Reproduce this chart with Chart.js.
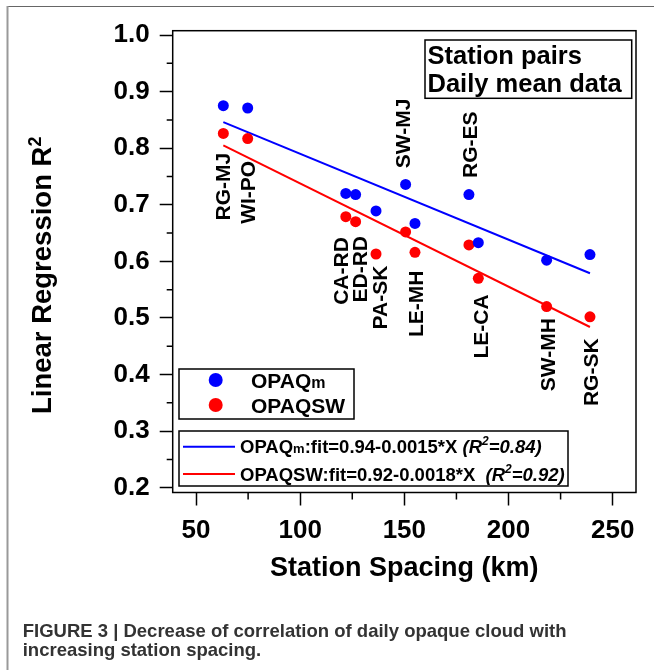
<!DOCTYPE html>
<html>
<head>
<meta charset="utf-8">
<script src="https://cdn.jsdelivr.net/npm/chart.js@4.4.1/dist/chart.umd.min.js"></script>
<style>
  html, body { margin: 0; padding: 0; background: #fff; }
  canvas { display: block; }
</style>
</head>
<body>
<canvas id="chart" width="654" height="670"></canvas>
<script>
// Station pairs, sorted by spacing (km)
const stationPairs = ['RG-MJ', 'WI-PO', 'CA-RD', 'ED-RD', 'PA-SK', 'SW-MJ', 'LE-MH', 'RG-ES', 'LE-CA', 'SW-MH', 'RG-SK'];
const spacingKm = [63.1, 74.8, 121.9, 126.6, 136.4, 150.6, 155.1, 181.0, 185.5, 218.3, 239.1];
const opaqM  = [0.875, 0.871, 0.720, 0.718, 0.689, 0.736, 0.667, 0.718, 0.633, 0.602, 0.612];
const opaqSW = [0.826, 0.817, 0.679, 0.670, 0.613, 0.652, 0.616, 0.629, 0.570, 0.520, 0.502];

// fitted lines, end points
const fitX  = [63.1, 239.1];
const fitM  = [0.846, 0.579];
const fitSW = [0.805, 0.484];

const xTicks = [50, 100, 150, 200, 250];
const xMinorTicks = [75, 125, 175, 225];
const yTicks = [0.2, 0.3, 0.4, 0.5, 0.6, 0.7, 0.8, 0.9, 1.0];
const yMinorTicks = [0.25, 0.35, 0.45, 0.55, 0.65, 0.75, 0.85, 0.95];

// where the pair names sit (km, R2 at text centre)
const labelAnchors = [
  [63.1, 0.732], [75.1, 0.722], [119.9, 0.583], [128.7, 0.586], [138.3, 0.536],
  [149.5, 0.826], [155.9, 0.525], [181.5, 0.806], [186.8, 0.485], [219.1, 0.435], [239.9, 0.404]
];

const BLUE = '#0000ff';
const RED = '#ff0000';
const FONT = "'Liberation Sans', Arial, Helvetica, sans-serif";

function pts(xs, ys) {
  return xs.map((v, i) => ({ x: v, y: ys[i] }));
}

// draws text pieces one after another: [text, size, italic, dy]
function drawRun(ctx, x, y, parts) {
  let cx = x;
  parts.forEach(([t, size, italic, dy]) => {
    ctx.font = (italic ? 'italic ' : '') + 'bold ' + size + 'px ' + FONT;
    ctx.fillText(t, cx, y + (dy || 0));
    cx += ctx.measureText(t).width;
  });
  return cx;
}

const decorations = {
  id: 'decorations',
  afterDraw(chart) {
    const { ctx, chartArea: a, scales: { x, y } } = chart;
    ctx.save();

    // page frame
    ctx.fillStyle = '#666';
    ctx.fillRect(7, 6, 654, 1);
    ctx.fillStyle = '#999';
    ctx.fillRect(6.5, 6, 2, 670);

    // plot box
    ctx.strokeStyle = '#000';
    ctx.lineWidth = 1.5;
    ctx.strokeRect(a.left, a.top, a.right - a.left, a.bottom - a.top);

    // minor ticks
    ctx.beginPath();
    xMinorTicks.forEach(v => {
      const px = x.getPixelForValue(v);
      ctx.moveTo(px, a.bottom); ctx.lineTo(px, a.bottom + 7);
    });
    yMinorTicks.forEach(v => {
      const py = y.getPixelForValue(v);
      ctx.moveTo(a.left, py); ctx.lineTo(a.left - 6, py);
    });
    ctx.stroke();

    // pair names, vertical
    ctx.fillStyle = '#000';
    ctx.font = 'bold 21px ' + FONT;
    ctx.textAlign = 'center';
    ctx.textBaseline = 'middle';
    stationPairs.forEach((name, i) => {
      const [lx, ly] = labelAnchors[i];
      ctx.save();
      ctx.translate(x.getPixelForValue(lx), y.getPixelForValue(ly));
      ctx.rotate(-Math.PI / 2);
      ctx.fillText(name, 0, 1);
      ctx.restore();
    });

    ctx.textAlign = 'left';
    ctx.textBaseline = 'alphabetic';

    // y axis title with superscript
    ctx.save();
    ctx.translate(51, 414);
    ctx.rotate(-Math.PI / 2);
    drawRun(ctx, 0, 0, [['Linear Regression R', 27.5], ['2', 18, false, -10]]);
    ctx.restore();

    // x axis title
    ctx.font = 'bold 27px ' + FONT;
    ctx.textAlign = 'center';
    ctx.fillText('Station Spacing (km)', (a.left + a.right) / 2, 576);
    ctx.textAlign = 'left';

    // info box
    ctx.lineWidth = 1.5;
    ctx.strokeRect(425, 40, 206.7, 58.3);
    ctx.font = 'bold 25.5px ' + FONT;
    ctx.fillText('Station pairs', 427.5, 64);
    ctx.fillText('Daily mean data', 427.5, 91.5);

    // marker legend
    ctx.strokeRect(179, 369, 175, 50);
    ctx.fillStyle = BLUE;
    ctx.beginPath(); ctx.arc(215.7, 380, 7, 0, Math.PI * 2); ctx.fill();
    ctx.fillStyle = RED;
    ctx.beginPath(); ctx.arc(215.7, 405, 7, 0, Math.PI * 2); ctx.fill();
    ctx.fillStyle = '#000';
    drawRun(ctx, 251, 388.3, [['OPAQ', 21], ['m', 16]]);
    drawRun(ctx, 251, 413.3, [['OPAQSW', 21]]);

    // fit legend
    ctx.strokeRect(179, 431, 389, 55);
    ctx.lineWidth = 2;
    ctx.strokeStyle = BLUE;
    ctx.beginPath(); ctx.moveTo(183, 446.7); ctx.lineTo(235, 446.7); ctx.stroke();
    ctx.strokeStyle = RED;
    ctx.beginPath(); ctx.moveTo(183, 474); ctx.lineTo(235, 474); ctx.stroke();
    drawRun(ctx, 240, 453.3, [
      ['OPAQ', 18.5], ['m', 13], [':fit=0.94-0.0015*X ', 18.5],
      ['(R', 18.5, true], ['2', 12, true, -8], ['=0.84)', 18.5, true]
    ]);
    drawRun(ctx, 240, 481, [
      ['OPAQSW:fit=0.92-0.0018*X  ', 18.5],
      ['(R', 18.5, true], ['2', 12, true, -8], ['=0.92)', 18.5, true]
    ]);

    // caption
    ctx.fillStyle = '#333';
    ctx.font = 'bold 18.5px ' + FONT;
    ctx.fillText('FIGURE 3 | Decrease of correlation of daily opaque cloud with', 22.7, 636.7);
    ctx.fillText('increasing station spacing.', 22.7, 656);

    ctx.restore();
  }
};

const tickFont = { family: FONT, size: 26, weight: 'bold' };
const gridOpts = { drawOnChartArea: false, drawTicks: true, tickLength: 13, tickColor: '#000', tickWidth: 1.5 };

new Chart(document.getElementById('chart'), {
  type: 'scatter',
  data: {
    datasets: [
      { label: 'OPAQm', data: pts(spacingKm, opaqM), backgroundColor: BLUE, borderWidth: 0, pointRadius: 5.5, order: 0 },
      { label: 'OPAQSW', data: pts(spacingKm, opaqSW), backgroundColor: RED, borderWidth: 0, pointRadius: 5.5, order: 1 },
      { label: 'OPAQm fit', data: pts(fitX, fitM), showLine: true, borderColor: BLUE, borderWidth: 2, pointRadius: 0, order: 2 },
      { label: 'OPAQSW fit', data: pts(fitX, fitSW), showLine: true, borderColor: RED, borderWidth: 2, pointRadius: 0, order: 3 }
    ]
  },
  options: {
    responsive: false,
    animation: false,
    events: [],
    layout: { padding: { top: 30.7, right: 18, bottom: 0, left: 0 } },
    plugins: { legend: { display: false }, tooltip: { enabled: false } },
    scales: {
      x: {
        type: 'linear',
        min: 38.8,
        max: 261.2,
        afterBuildTicks: ax => { ax.ticks = xTicks.map(v => ({ value: v })); },
        afterFit: ax => { ax.height = 177.5; },
        ticks: { font: tickFont, color: '#000', padding: 10, autoSkip: false, maxRotation: 0 },
        grid: gridOpts,
        border: { display: false }
      },
      y: {
        type: 'linear',
        min: 0.1915,
        max: 1.0076,
        afterBuildTicks: ax => { ax.ticks = yTicks.map(v => ({ value: v })); },
        afterFit: ax => { ax.width = 172.7; },
        ticks: { font: tickFont, color: '#000', padding: 10, callback: v => v.toFixed(1) },
        grid: gridOpts,
        border: { display: false }
      }
    }
  },
  plugins: [decorations]
});
</script>
</body>
</html>
